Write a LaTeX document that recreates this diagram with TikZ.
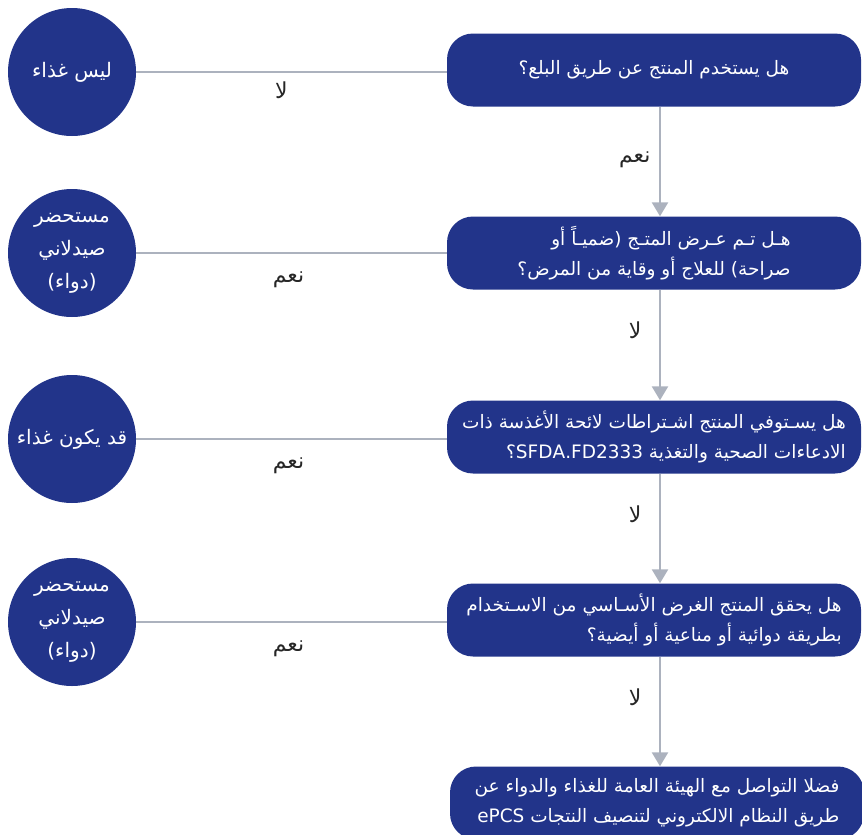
\documentclass[tikz,border=0pt]{standalone}
\usepackage{fontspec}
\usepackage{tikz}
\usetikzlibrary{arrows.meta}
\TeXXeTstate=1
\newfontfamily\arabicfont[Script=Arabic]{DejaVu Sans}
\definecolor{navy}{RGB}{34,52,138}
\definecolor{linegray}{RGB}{172,178,190}

\begin{document}
\begin{tikzpicture}[x=1pt,y=-1pt,
	qbox/.style={fill=navy,rounded corners=26pt,minimum width=414pt,minimum height=73pt,
		text=white,align=right,inner sep=0pt,font=\arabicfont\fontsize{18.5}{30}\selectfont},
	endcircle/.style={circle,fill=navy,minimum size=128pt,inner sep=0pt,
		text=white,align=center,font=\arabicfont\fontsize{20}{33}\selectfont},
	hline/.style={draw=linegray,line width=2.5pt},
	varrow/.style={draw=linegray,line width=2.5pt,-{Triangle[width=16pt,length=14pt]}},
	lbl/.style={font=\arabicfont\fontsize{22}{24}\selectfont,text=black!85}]
	\useasboundingbox (0,0) rectangle (862,835);
	\clip (0,0) rectangle (862,835);
	% questions on the right
	\node[qbox] (b1) at (654,70) {\beginR هل يستخدم المنتج عن طريق البلع؟\endR};
	\node[qbox] (b2) at (654,253) {\beginR هـل تـم عـرض المتـج (ضميـاً أو\endR\\
		\beginR صراحة) للعلاج أو وقاية من المرض؟\endR};
	\node[qbox] (b3) at (654,437) {\beginR هل يسـتوفي المنتج اشـتراطات لائحة الأغذسة ذات\endR\\
		\beginR الادعاءات الصحية والتغذية \beginL SFDA.FD2333\endL؟\endR};
	\node[qbox] (b4) at (654,620) {\beginR هل يحقق المنتج الغرض الأسـاسي من الاسـتخدام\endR\\
		\beginR بطريقة دوائية أو مناعية أو أيضية؟\endR};
	\node[qbox] (b5) at (657,803) {\beginR فضلا التواصل مع الهيئة العامة  للغذاء والدواء عن\endR\\
		\beginR طريق النظام الالكتروني لتنصيف النتجات \beginL ePCS\endL\endR};
	% answers on the left
	\node[endcircle] (c1) at (72,72) {\beginR ليس غذاء\endR};
	\node[endcircle] (c2) at (72,253) {\beginR مستحضر\endR\\\beginR صيدلاني\endR\\\beginR (دواء)\endR};
	\node[endcircle] (c3) at (72,439) {\beginR قد يكون غذاء\endR};
	\node[endcircle] (c4) at (72,622) {\beginR مستحضر\endR\\\beginR صيدلاني\endR\\\beginR (دواء)\endR};
	\foreach \i/\ans/\gap/\dx in {1/لا/5pt/-10pt,2/نعم/14pt/-3pt,3/نعم/14pt/-3pt,4/نعم/14pt/-3pt}
	\draw[hline] (c\i.east) -- (c\i.east -| b\i.west) node[midway,below=\gap,xshift=\dx,lbl] {\beginR\ans\endR};
	\foreach \i/\j/\ans/\p/\gap in {1/2/نعم/0.48/5pt,2/3/لا/0.37/14pt,3/4/لا/0.37/14pt,4/5/لا/0.37/14pt}
	\draw[varrow] ([xshift=6pt]b\i.south) -- ([xshift=6pt]b\i.south |- b\j.north) node[pos=\p,left=\gap,lbl] {\beginR\ans\endR};
\end{tikzpicture}
\end{document}
